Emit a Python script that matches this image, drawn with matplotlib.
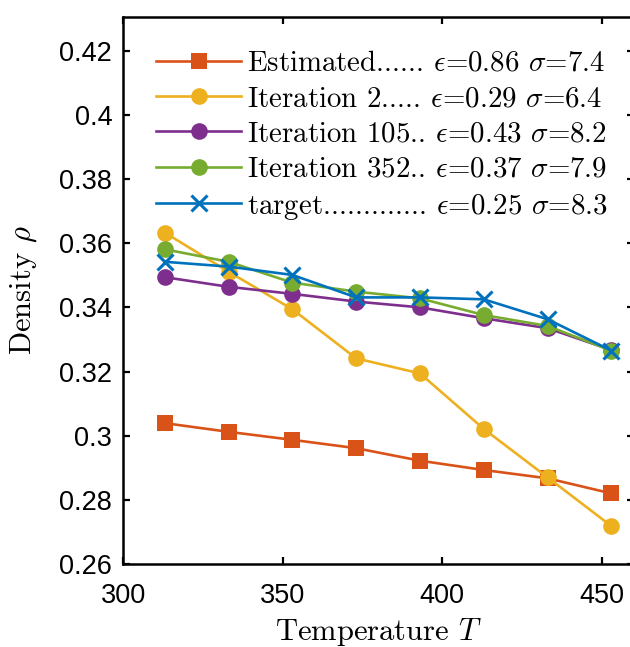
#!/usr/bin/env python3
"""Density vs temperature for successive parameter fits."""

import matplotlib
matplotlib.use("Agg")
import matplotlib.pyplot as plt

# Données
temperature = [313, 333, 353, 373, 393, 413, 433, 453]

rho_estimated = [0.3039, 0.3012, 0.2987, 0.2961, 0.2922, 0.2893, 0.2867, 0.2820]
rho_iter2 = [0.3633, 0.3511, 0.3394, 0.3241, 0.3194, 0.3021, 0.2870, 0.2718]
rho_iter105 = [0.3494, 0.3464, 0.3442, 0.3418, 0.3400, 0.3366, 0.3335, 0.3267]
rho_iter352 = [0.3581, 0.3542, 0.3477, 0.3449, 0.3428, 0.3376, 0.3342, 0.3265]
rho_target = [0.3542, 0.3527, 0.3501, 0.3431, 0.3431, 0.3425, 0.3363, 0.3265]

labels = [
    r"Estimated...... $\epsilon$=0.86 $\sigma$=7.4",
    r"Iteration 2..... $\epsilon$=0.29 $\sigma$=6.4",
    r"Iteration 105.. $\epsilon$=0.43 $\sigma$=8.2",
    r"Iteration 352.. $\epsilon$=0.37 $\sigma$=7.9",
    r"target............. $\epsilon$=0.25 $\sigma$=8.3",
]

xticks = [300, 350, 400, 450]
yticks = [0.26, 0.28, 0.3, 0.32, 0.34, 0.36, 0.38, 0.4, 0.42]
ytick_labels = ["0.26", "0.28", "0.3", "0.32", "0.34", "0.36", "0.38", "0.4", "0.42"]

# Couleurs MATLAB
colors = ["#D95319", "#EDB120", "#7E2F8E", "#77AC30", "#0072BD"]

plt.rcParams["mathtext.fontset"] = "cm"
plt.rcParams["axes.unicode_minus"] = False

fig = plt.figure(figsize=(6.3, 6.47), dpi=100)
ax = fig.add_axes([0.1957, 0.1283, 0.8102, 0.8454])

series = [rho_estimated, rho_iter2, rho_iter105, rho_iter352, rho_target]
markers = ["s", "o", "o", "o", "x"]
msizes = [11, 12, 12, 12, 11]

for ys, lab, c, m, ms in zip(series, labels, colors, markers, msizes):
    ax.plot(temperature, ys, color=c, marker=m, markersize=ms,
            markeredgewidth=2.2 if m == "x" else 0.0,
            linewidth=1.9, label=lab)

ax.set_xlim(300, 460)
ax.set_ylim(0.26, 0.4305)
ax.set_xticks(xticks)
ax.set_yticks(yticks)
ax.set_yticklabels(ytick_labels)

for t in ax.get_xticklabels() + ax.get_yticklabels():
    t.set_fontfamily("Liberation Sans")
    t.set_fontsize(19.5)

ax.tick_params(direction="in", length=5, width=1.6, top=True, right=True)
ax.tick_params(axis="x", pad=14)
ax.tick_params(axis="y", pad=8)
for s in ax.spines.values():
    s.set_linewidth(1.8)

ax.set_xlabel("Temperature $T$", fontfamily="cmr10", fontsize=22)
ax.set_ylabel(r"Density $\rho$", fontfamily="cmr10", fontsize=22)
ax.xaxis.set_label_coords(0.5, -0.095)
ax.yaxis.set_label_coords(-0.165, 0.5)

leg = ax.legend(loc="upper left", bbox_to_anchor=(0.064, 0.939), frameon=False,
                handlelength=2.95, prop={"family": "cmr10", "size": 20.8},
                labelspacing=0.31, handletextpad=0.2, borderpad=0.0,
                borderaxespad=0.0)

fig.savefig("out.png", dpi=100)
